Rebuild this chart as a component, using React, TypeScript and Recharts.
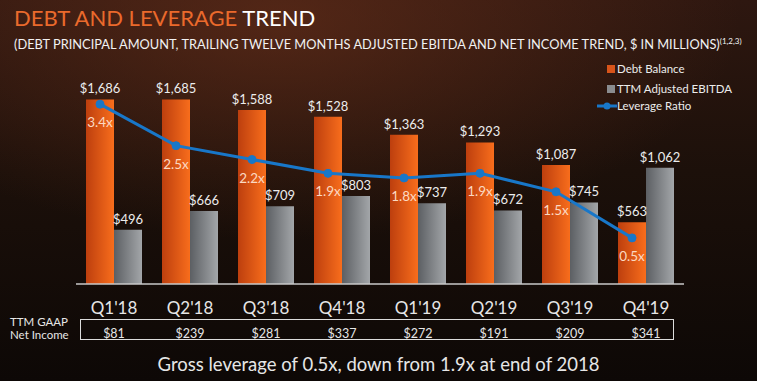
import React from "react";
import {
  Bar,
  ComposedChart,
  LabelList,
  Line,
  XAxis,
  YAxis,
} from "recharts";

const quarters = ["Q1'18", "Q2'18", "Q3'18", "Q4'18", "Q1'19", "Q2'19", "Q3'19", "Q4'19"];
const debtBalance = [1686, 1685, 1588, 1528, 1363, 1293, 1087, 563];
const ttmEbitda = [496, 666, 709, 803, 737, 672, 745, 1062];
const leverageRatio = [3.4, 2.5, 2.2, 1.9, 1.8, 1.9, 1.5, 0.5];
const netIncome = [81, 239, 281, 337, 272, 191, 209, 341];

const data = quarters.map((q, i) => ({
  quarter: q,
  idx: i,
  debt: debtBalance[i],
  ebitda: ttmEbitda[i],
  leverage: leverageRatio[i],
  income: netIncome[i],
}));

const FONT = "Lato, 'Open Sans', sans-serif";
const money = (v: number) => "$" + v.toLocaleString("en-US");

function QuarterTick(props: any) {
  const { x, y, payload } = props;
  const income = netIncome[payload.index];
  return (
    <g>
      <text x={x} y={y + 22} textAnchor="middle" fill="#e6e6e6" fontSize={17} fontFamily={FONT}>
        {payload.value}
      </text>
      <text x={x} y={y + 46} textAnchor="middle" fill="#e6e6e6" fontSize={12.5} fontFamily={FONT}>
        {money(income)}
      </text>
    </g>
  );
}

function LeverageLabel(props: any) {
  const { x, y, value } = props;
  return (
    <text x={x} y={y + 23} textAnchor="middle" fill="#fcd9c2" fontSize={13.5} fontFamily={FONT}>
      {value.toFixed(1)}x
    </text>
  );
}

export default function App() {
  return (
    <div
      style={{
        position: "fixed",
        left: 0,
        top: 0,
        width: 757,
        height: 381,
        overflow: "hidden",
        fontFamily: FONT,
        background:
          "radial-gradient(ellipse 460px 220px at 280px 20px, rgba(115,52,28,0.55), rgba(0,0,0,0) 100%), linear-gradient(180deg, #2e1710 0%, #1c100a 45%, #0d0806 100%)",
      }}
    >
      <div style={{ position: "absolute", left: 14, top: 4, fontSize: 22, whiteSpace: "nowrap" }}>
        <span style={{ color: "#ea6a2c" }}>DEBT AND LEVERAGE </span>
        <span style={{ color: "#ffffff" }}>TREND</span>
      </div>
      <div style={{ position: "absolute", left: 14, top: 36, fontSize: 12.8, color: "#f2f2f2", whiteSpace: "nowrap" }}>
        (DEBT PRINCIPAL AMOUNT, TRAILING TWELVE MONTHS ADJUSTED EBITDA AND NET INCOME TREND, $ IN MILLIONS)
        <sup style={{ fontSize: 8 }}>(1,2,3)</sup>
      </div>

      <div style={{ position: "absolute", left: 597, top: 60, fontSize: 11.5, color: "#ececec", lineHeight: "17px" }}>
        <div style={{ display: "flex", alignItems: "center" }}>
          <span style={{ width: 8, height: 8, background: "#d8541a", marginLeft: 10, marginRight: 2 }} />
          Debt Balance
        </div>
        <div style={{ display: "flex", alignItems: "center", marginTop: 3 }}>
          <span style={{ width: 8, height: 8, background: "#8a8c8f", marginLeft: 10, marginRight: 2 }} />
          TTM Adjusted EBITDA
        </div>
        <div style={{ display: "flex", alignItems: "center" }}>
          <svg width={20} height={10}>
            <line x1={0} y1={5} x2={20} y2={5} stroke="#1877c9" strokeWidth={3} />
            <circle cx={10} cy={5} r={3.5} fill="#1877c9" />
          </svg>
          Leverage Ratio
        </div>
      </div>

      <ComposedChart
        width={757}
        height={381}
        data={data}
        margin={{ top: 65, right: 73, bottom: 37, left: 76 }}
        barGap={0}
        barCategoryGap={10}
        style={{ position: "absolute", left: 0, top: 0 }}
      >
        <defs>
          <linearGradient id="orangeFill" x1="0" y1="0" x2="1" y2="0">
            <stop offset="0%" stopColor="#bd3f0e" />
            <stop offset="100%" stopColor="#f86d1c" />
          </linearGradient>
          <linearGradient id="grayFill" x1="0" y1="0" x2="1" y2="0">
            <stop offset="0%" stopColor="#5c5f63" />
            <stop offset="100%" stopColor="#a3a6a9" />
          </linearGradient>
        </defs>
        <XAxis
          xAxisId="cat"
          dataKey="quarter"
          height={60}
          axisLine={{ stroke: "#c8c8c8", strokeWidth: 1.5 }}
          tickLine={false}
          interval={0}
          tick={<QuarterTick />}
        />
        <XAxis xAxisId="pt" dataKey="idx" type="number" domain={[-0.316, 7.684]} hide />
        <YAxis yAxisId="usd" domain={[0, 2000]} hide />
        <YAxis yAxisId="ratio" orientation="right" domain={[-0.5, 4.25]} hide />
        <Bar xAxisId="cat" yAxisId="usd" dataKey="debt" fill="url(#orangeFill)" isAnimationActive={false}>
          <LabelList dataKey="debt" position="top" offset={6} fill="#ececec" fontSize={13} fontFamily={FONT} formatter={(v: any) => money(Number(v))} />
        </Bar>
        <Bar xAxisId="cat" yAxisId="usd" dataKey="ebitda" fill="url(#grayFill)" isAnimationActive={false}>
          <LabelList dataKey="ebitda" position="top" offset={6} fill="#ececec" fontSize={13} fontFamily={FONT} formatter={(v: any) => money(Number(v))} />
        </Bar>
        <Line
          xAxisId="pt"
          yAxisId="ratio"
          dataKey="leverage"
          stroke="#1877c9"
          strokeWidth={3}
          dot={{ r: 4, fill: "#1877c9", stroke: "#1877c9", strokeWidth: 1 }}
          isAnimationActive={false}
        >
          <LabelList dataKey="leverage" content={<LeverageLabel />} />
        </Line>
      </ComposedChart>

      <div
        style={{
          position: "absolute",
          left: 80,
          top: 319,
          width: 592,
          height: 19,
          border: "1.5px solid #dcdcdc",
        }}
      />
      <div style={{ position: "absolute", left: 10, top: 315, fontSize: 11.5, color: "#e6e6e6", lineHeight: "13px" }}>
        TTM GAAP
        <br />
        Net Income
      </div>
      <div
        style={{
          position: "absolute",
          left: 0,
          width: 757,
          top: 353,
          textAlign: "center",
          fontSize: 18.5,
          color: "#e6e6e6",
        }}
      >
        Gross leverage of 0.5x, down from 1.9x at end of 2018
      </div>
    </div>
  );
}
